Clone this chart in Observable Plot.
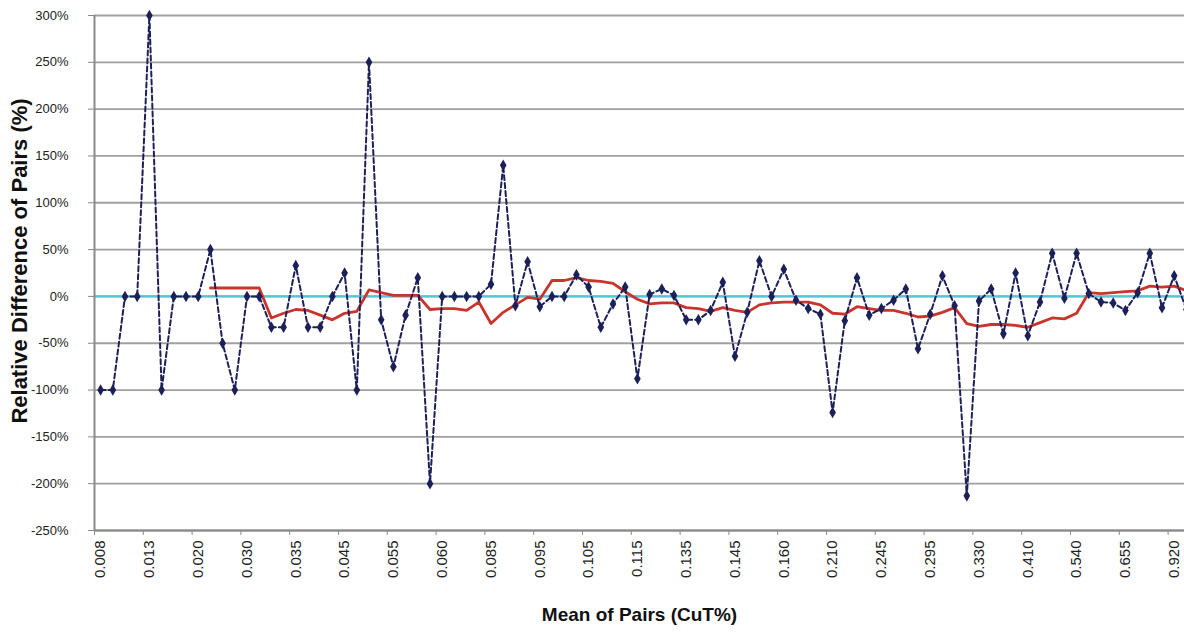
<!DOCTYPE html>
<html>
<head>
<meta charset="utf-8">
<script src="https://cdn.jsdelivr.net/npm/d3@7"></script>
<script src="https://cdn.jsdelivr.net/npm/@observablehq/plot@0.6"></script>
<style>
  html, body { margin: 0; padding: 0; background: #fff; overflow: hidden; }
  #chart svg { display: block; }
</style>
</head>
<body>
<div id="chart"></div>
<script>
// Tick labels shown on the x axis (every 4th pair)
const xTickLabels = ["0.008","0.013","0.020","0.030","0.035","0.045","0.055","0.060","0.085","0.095","0.105","0.115","0.135","0.145","0.160","0.210","0.245","0.295","0.330","0.410","0.540","0.655","0.920"];

// Relative difference of each pair (%), in category order
const relDiff = [
  -100, -100, 0, 0, 300, -100, 0, 0, 0, 50,
  -50, -100, 0, 0, -33, -33, 33, -33, -33, 0,
  25, -100, 250, -25, -75, -20, 20, -200, 0, 0,
  0, 0, 13, 140, -10, 37, -11, 0, 0, 23,
  10, -33, -8, 10, -88, 2, 8, 1, -25, -25,
  -15, 15, -64, -17, 38, 0, 29, -4, -13, -19,
  -124, -26, 20, -20, -13, -4, 8, -56, -19, 22,
  -10, -213, -5, 8, -40, 25, -42, -6, 46, -2,
  46, 3, -6, -7, -15, 4, 46, -12, 22, -14
];

// Moving average of the relative difference (%); null where not drawn
const movingAvg = [
  null, null, null, null, null, null, null, null, null, 9,
  9, 9, 9, 9, -23, -18, -14, -15, -20, -25,
  -18, -16, 7, 4, 1, 1, 1, -14, -13, -13,
  -15, -6, -29, -17, -9, -1, -3, 17, 17, 20,
  17, 16, 14, 5, -3, -8, -7, -7, -12, -13,
  -16, -12, -15, -17, -9, -7, -6, -6, -6, -9,
  -18, -19, -11, -13, -15, -15, -18, -22, -21, -17,
  -12, -29, -32, -30, -30, -31, -33, -28, -23, -24,
  -18, 4, 3, 4, 5, 6, 11, 10, 11, 6
];

const yTicks = d3.range(-250, 301, 50);

const pairs = relDiff.map((v, i) => ({i, rel: v, avg: movingAvg[i]}));
const avgPairs = pairs.filter(d => d.avg !== null);
const labelIdx = xTickLabels.map((_, k) => k * 4);
const boundaryIdx = labelIdx.map(i => i - 0.5);

const font = "'Liberation Sans', Arial, sans-serif";

const chart = Plot.plot({
  width: 1184,
  height: 634,
  marginLeft: 94,
  marginRight: 0,
  marginTop: 15,
  marginBottom: 104,
  style: {fontFamily: font, background: "#fff", color: "#222", overflow: "hidden"},
  x: {type: "linear", domain: [-0.5, 89.5], range: [94, 1192]},
  y: {domain: [-250, 300]},
  marks: [
    Plot.gridY(yTicks, {stroke: "#a0a0a0", strokeOpacity: 1, strokeWidth: 1.8}),
    Plot.ruleY([0], {stroke: "#55c3d8", strokeWidth: 2.4}),
    Plot.line(avgPairs, {x: "i", y: "avg", stroke: "#c9342c", strokeWidth: 2.8, curve: "linear"}),
    Plot.line(pairs, {x: "i", y: "rel", stroke: "#1c2058", strokeWidth: 2, strokeDasharray: "5,3"}),
    Plot.dot(pairs, {x: "i", y: "rel", symbol: "diamond", r: 3.5, fill: "#1c2058", stroke: "none"}),
    Plot.ruleY([-250], {stroke: "#8a8a8a", strokeWidth: 2}),
    Plot.ruleX([-0.5], {stroke: "#8a8a8a", strokeWidth: 2}),
    Plot.axisY({ticks: yTicks, tickFormat: d => d + "%", tickSize: 6, tickPadding: 20, fontSize: 13, label: null, stroke: "#8a8a8a"}),
    Plot.axisX({ticks: labelIdx, tickFormat: i => xTickLabels[i / 4], tickRotate: -90, tickSize: 0, tickPadding: 10, fontSize: 15, label: null}),
    Plot.axisX({ticks: boundaryIdx, tickFormat: () => "", tickSize: 5, label: null, stroke: "#8a8a8a"}),
    Plot.text(["Relative Difference of Pairs (%)"], {frameAnchor: "left", dx: -75, dy: -12, rotate: -90, textAnchor: "middle", fontWeight: "bold", fontSize: 22, fill: "#111"}),
    Plot.text(["Mean of Pairs (CuT%)"], {frameAnchor: "bottom", dy: 90, textAnchor: "middle", fontWeight: "bold", fontSize: 19, fill: "#111"})
  ]
});
document.getElementById("chart").appendChild(chart);
</script>
</body>
</html>
